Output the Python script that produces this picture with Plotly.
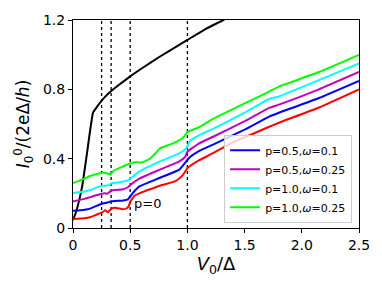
import plotly.graph_objects as go

# ---- data ----
black_x = [0, 0.03, 0.08, 0.12, 0.175, 0.2, 0.25, 0.333, 0.4, 0.5, 0.6, 0.75, 0.9, 1.0, 1.15, 1.314, 1.45]
black_y = [0.045, 0.1, 0.24, 0.42, 0.665, 0.69, 0.735, 0.79, 0.825, 0.875, 0.92, 0.985, 1.045, 1.085, 1.145, 1.2, 1.25]

red_x = [0, 0.1, 0.15, 0.2, 0.235, 0.26, 0.28, 0.305, 0.335, 0.38, 0.435, 0.47, 0.49, 0.5, 0.54, 0.58, 0.68, 0.76, 0.9, 0.96, 1.0, 1.02, 1.1, 1.22, 1.4, 1.51, 1.7, 1.8, 2.15, 2.5]
red_y = [0.052, 0.056, 0.062, 0.075, 0.084, 0.092, 0.103, 0.09, 0.112, 0.116, 0.108, 0.114, 0.13, 0.152, 0.187, 0.2, 0.225, 0.244, 0.272, 0.305, 0.345, 0.356, 0.39, 0.43, 0.495, 0.525, 0.58, 0.607, 0.695, 0.8]

blue_x = [0, 0.1, 0.15, 0.25, 0.3, 0.335, 0.44, 0.48, 0.51, 0.54, 0.58, 0.76, 0.93, 0.99, 1.02, 1.1, 1.22, 1.51, 1.715, 1.8, 2.15, 2.5]
blue_y = [0.099, 0.105, 0.112, 0.14, 0.147, 0.154, 0.159, 0.165, 0.19, 0.215, 0.24, 0.29, 0.337, 0.384, 0.408, 0.444, 0.48, 0.571, 0.643, 0.665, 0.75, 0.849]

purple_x = [0, 0.1, 0.15, 0.25, 0.28, 0.3, 0.335, 0.44, 0.48, 0.51, 0.58, 0.76, 0.93, 0.98, 1.0, 1.1, 1.22, 1.51, 1.715, 1.8, 2.15, 2.5]
purple_y = [0.153, 0.168, 0.178, 0.197, 0.2, 0.198, 0.215, 0.224, 0.235, 0.253, 0.285, 0.337, 0.384, 0.41, 0.44, 0.487, 0.525, 0.619, 0.693, 0.712, 0.8, 0.9]

cyan_x = [0, 0.1, 0.15, 0.25, 0.3, 0.335, 0.44, 0.48, 0.51, 0.58, 0.76, 0.93, 0.99, 1.02, 1.1, 1.22, 1.51, 1.715, 1.8, 2.15, 2.5]
cyan_y = [0.202, 0.21, 0.219, 0.243, 0.245, 0.257, 0.268, 0.275, 0.29, 0.325, 0.384, 0.431, 0.459, 0.5, 0.534, 0.571, 0.669, 0.744, 0.759, 0.853, 0.95]

green_x = [0, 0.1, 0.15, 0.25, 0.3, 0.33, 0.35, 0.5, 0.54, 0.6, 0.67, 0.72, 0.76, 0.87, 0.96, 1.0, 1.1, 1.22, 1.51, 1.715, 1.8, 2.15, 2.5]
green_y = [0.259, 0.285, 0.3, 0.318, 0.315, 0.309, 0.328, 0.372, 0.38, 0.378, 0.399, 0.43, 0.459, 0.487, 0.519, 0.553, 0.581, 0.628, 0.722, 0.787, 0.816, 0.9, 0.999]

vlines = [0.25, 1 / 3, 0.5, 1.0]

x_ticks = [0, 0.5, 1.0, 1.5, 2.0, 2.5]
x_ticklabels = ["0", "0.5", "1.0", "1.5", "2.0", "2.5"]
y_ticks = [0, 0.4, 0.8, 1.2]
y_ticklabels = ["0", "0.4", "0.8", "1.2"]

FONT = "DejaVu Sans"

fig = go.Figure()

# dotted vertical lines
vx, vy = [], []
for v in vlines:
    vx += [v, v, None]
    vy += [0, 1.2, None]
fig.add_trace(go.Scatter(x=vx, y=vy, mode="lines", showlegend=False,
                         line=dict(color="black", width=1.3, dash="dot"), hoverinfo="skip"))

line_kw = dict(shape="spline", smoothing=0.4, width=2)

fig.add_trace(go.Scatter(x=black_x, y=black_y, mode="lines", showlegend=False,
                         line=dict(color="black", **line_kw)))
fig.add_trace(go.Scatter(x=red_x, y=red_y, mode="lines", showlegend=False,
                         line=dict(color="#ff0000", **line_kw)))
fig.add_trace(go.Scatter(x=blue_x, y=blue_y, mode="lines", name="p=0.5,<i>ω</i>=0.1",
                         line=dict(color="#0000ff", **line_kw)))
fig.add_trace(go.Scatter(x=purple_x, y=purple_y, mode="lines", name="p=0.5,<i>ω</i>=0.25",
                         line=dict(color="#bf00bf", **line_kw)))
fig.add_trace(go.Scatter(x=cyan_x, y=cyan_y, mode="lines", name="p=1.0,<i>ω</i>=0.1",
                         line=dict(color="#00ffff", **line_kw)))
fig.add_trace(go.Scatter(x=green_x, y=green_y, mode="lines", name="p=1.0,<i>ω</i>=0.25",
                         line=dict(color="#00ff00", **line_kw)))

fig.add_annotation(x=0.654, y=0.144, text="p=0", showarrow=False,
                   font=dict(family=FONT, size=13, color="black"))

fig.update_layout(
    width=382, height=287,
    margin=dict(l=73, r=22, t=15, b=59),
    paper_bgcolor="white", plot_bgcolor="white",
    font=dict(family=FONT, color="black"),
    legend=dict(x=0.976, xanchor="right", y=0.025, yanchor="bottom",
                bgcolor="rgba(255,255,255,0.8)", bordercolor="#cccccc", borderwidth=1,
                font=dict(family=FONT, size=11), tracegroupgap=0, itemwidth=30),
    xaxis=dict(range=[0, 2.5], tickvals=x_ticks, ticktext=x_ticklabels,
               showgrid=False, zeroline=False, showline=True, linecolor="black",
               linewidth=1, mirror=True, ticks="outside", ticklen=4, tickcolor="black",
               tickfont=dict(family=FONT, size=14),
               title=dict(text="<i>V</i><sub>0</sub>/Δ", font=dict(family=FONT, size=18), standoff=2)),
    yaxis=dict(range=[0, 1.2], tickvals=y_ticks, ticktext=y_ticklabels,
               showgrid=False, zeroline=False, showline=True, linecolor="black",
               linewidth=1, mirror=True, ticks="outside", ticklen=4, tickcolor="black",
               tickfont=dict(family=FONT, size=14),
               title=dict(text="<i>I</i><sub>0</sub><sup>0</sup>/(2eΔ/<i>h</i>)",
                          font=dict(family=FONT, size=17), standoff=8)),
)

fig.write_html("out.html", config={"displayModeBar": False},
               post_script="document.body.style.margin='0';document.body.style.overflow='hidden';")
